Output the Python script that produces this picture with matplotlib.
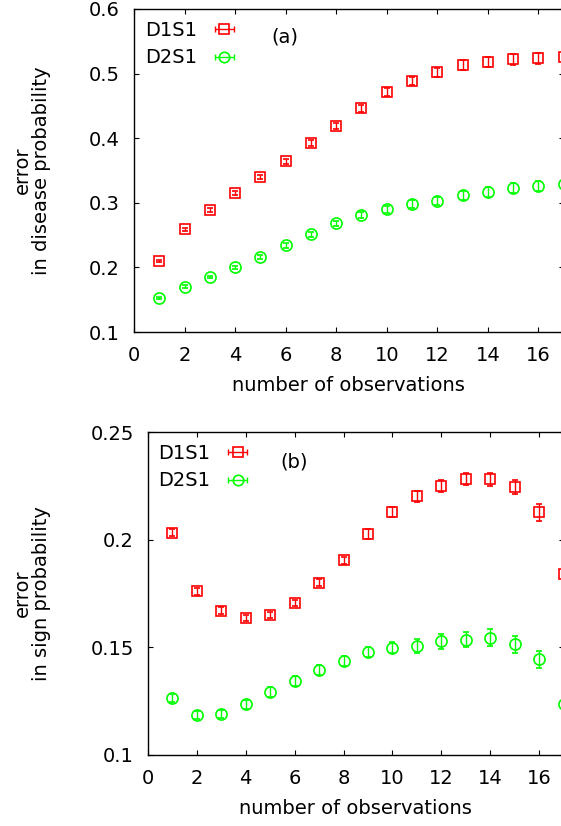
import matplotlib
matplotlib.use("Agg")
import matplotlib.pyplot as plt
from matplotlib.collections import LineCollection
from matplotlib.container import ErrorbarContainer
from matplotlib.legend_handler import HandlerErrorbar
from matplotlib.lines import Line2D

plt.rcParams["font.family"] = ["DejaVu Sans"]
plt.rcParams["font.size"] = 14

# number of observations
n_obs = list(range(1, 18))

# (a) error in disease probability
disease_d1s1 = [0.210, 0.259, 0.289, 0.315, 0.340, 0.364, 0.392, 0.419, 0.446,
                0.471, 0.489, 0.502, 0.513, 0.518, 0.522, 0.524, 0.526]
disease_d1s1_err = [0.002, 0.0025, 0.003, 0.003, 0.0035, 0.004, 0.0045, 0.005, 0.0055,
                    0.006, 0.0065, 0.007, 0.0075, 0.008, 0.0085, 0.0085, 0.009]
disease_d2s1 = [0.152, 0.170, 0.185, 0.200, 0.216, 0.234, 0.251, 0.268, 0.281,
                0.290, 0.298, 0.303, 0.312, 0.317, 0.323, 0.326, 0.329]
disease_d2s1_err = [0.0015, 0.002, 0.002, 0.0025, 0.003, 0.0035, 0.004, 0.0045, 0.005,
                    0.0055, 0.006, 0.0065, 0.007, 0.0075, 0.0075, 0.008, 0.008]

# (b) error in sign probability
sign_d1s1 = [0.2032, 0.176, 0.167, 0.1635, 0.165, 0.1707, 0.180, 0.1904, 0.2028,
             0.213, 0.2201, 0.2249, 0.2282, 0.228, 0.2246, 0.2127, 0.1839]
sign_d1s1_err = [0.0017, 0.0017, 0.0015, 0.0015, 0.0015, 0.0015, 0.0016, 0.0017, 0.0023,
                 0.0023, 0.0026, 0.0027, 0.0027, 0.003, 0.0033, 0.0038, 0.004]
sign_d2s1 = [0.1264, 0.1184, 0.1192, 0.1235, 0.1292, 0.1342, 0.1395, 0.1436, 0.1477,
             0.1498, 0.1506, 0.1528, 0.1535, 0.1545, 0.1515, 0.1444, 0.1237]
sign_d2s1_err = [0.0019, 0.0019, 0.0019, 0.0022, 0.0022, 0.0023, 0.0024, 0.0023, 0.0023,
                 0.0026, 0.0033, 0.0034, 0.0035, 0.0038, 0.0039, 0.0039, 0.004]

RED = "#ff0000"
GREEN = "#00ff00"
series_labels = ["D1S1", "D2S1"]
W, H = 561, 826


def key_handle(color, marker):
    # gnuplot-style key entry: marker with a horizontal error bar
    pl = Line2D([], [], color=color, marker=marker, ms=7.5, mfc="none", mec=color,
                mew=1.2, ls="none")
    cap = Line2D([], [], color=color, ms=4, mew=1.0)
    bars = LineCollection([], colors=color, linewidths=1.0)
    return ErrorbarContainer((pl, [cap], [bars]), has_xerr=True, has_yerr=False)


def draw_panel(ax, y1, e1, y2, e2, ylim, yticks, ylabel, tag, tag_y, label_x):
    ax.errorbar(n_obs, y1, yerr=e1, fmt="s", ms=7.8, mfc="none", mec=RED, mew=1.2,
                ecolor=RED, elinewidth=1.0, capsize=2, capthick=1.0, clip_on=False)
    ax.errorbar(n_obs, y2, yerr=e2, fmt="o", ms=8, mfc="none", mec=GREEN, mew=1.2,
                ecolor=GREEN, elinewidth=1.0, capsize=2, capthick=1.0, clip_on=False)
    ax.set_xlim(0, 17)
    ax.set_ylim(*ylim)
    ax.set_xticks(range(0, 18, 2))
    ax.set_yticks(yticks)
    ax.set_yticklabels([f"{t:g}" for t in yticks])
    ax.tick_params(direction="in", length=3.6, width=0.8, top=True, right=True)
    ax.tick_params(axis="y", pad=10)
    ax.tick_params(axis="x", pad=10)
    for sp in ax.spines.values():
        sp.set_linewidth(1.0)
    ax.set_xlabel("number of observations", labelpad=8)
    ax.set_ylabel(ylabel, linespacing=1.0)
    ax.yaxis.set_label_coords(label_x, 0.5)

    handles = [key_handle(RED, "s"), key_handle(GREEN, "o")]
    ax.legend(handles, series_labels, loc="upper left", bbox_to_anchor=(0.026, 0.963),
              frameon=False, markerfirst=False, borderpad=0, borderaxespad=0,
              handlelength=1.03, handletextpad=0.88, labelspacing=0.43,
              handler_map={ErrorbarContainer: HandlerErrorbar(xerr_size=0.5)})
    ax.text(0.352, tag_y, tag, transform=ax.transAxes, ha="center", va="center")


fig = plt.figure(figsize=(W / 100, H / 100), dpi=100)
ax_a = fig.add_axes([134 / W, (H - 332) / H, (563.7 - 134) / W, 323 / H])
ax_b = fig.add_axes([147.7 / W, (H - 755) / H, (563.8 - 147.7) / W, 323 / H])

draw_panel(ax_a, disease_d1s1, disease_d1s1_err, disease_d2s1, disease_d2s1_err,
           (0.1, 0.6), [0.1, 0.2, 0.3, 0.4, 0.5, 0.6],
           "error\nin disease probability", "(a)", 0.913, (51 - 134) / 429.7)
draw_panel(ax_b, sign_d1s1, sign_d1s1_err, sign_d2s1, sign_d2s1_err,
           (0.1, 0.25), [0.1, 0.15, 0.2, 0.25],
           "error\nin sign probability", "(b)", 0.907, (51 - 147.7) / 416.1)

fig.savefig("out.png", dpi=100)
